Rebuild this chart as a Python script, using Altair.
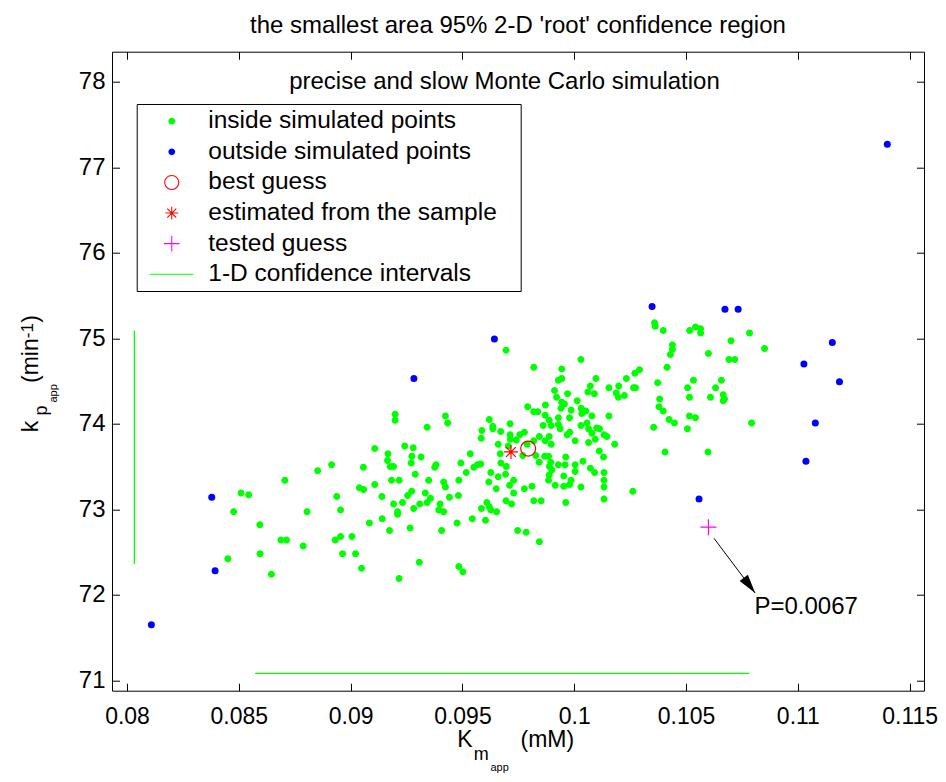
import altair as alt
import pandas as pd

FONT = "Liberation Sans"

TITLE = "the smallest area 95% 2-D 'root' confidence region"
NOTE_TEXT = ["precise and slow Monte Carlo simulation"]
NOTE_X = [0.09688]
NOTE_Y = [77.92]

X_DOMAIN = [0.07933, 0.11564]
Y_DOMAIN = [70.878, 78.351]
X_TICKS = [0.08, 0.085, 0.09, 0.095, 0.1, 0.105, 0.11, 0.115]
Y_TICKS = [71, 72, 73, 74, 75, 76, 77, 78]

INSIDE_X = [
    0.09695, 0.09819, 0.10030, 0.09944, 0.09929, 0.09944, 0.09912, 0.09970, 0.09921, 0.10097,
    0.10072, 0.10061, 0.10090, 0.10155, 0.10199, 0.10233, 0.10271, 0.10292, 0.10265, 0.10188,
    0.10224, 0.10197, 0.10359, 0.10362, 0.10398, 0.10439, 0.10439, 0.10430, 0.10415, 0.10373,
    0.10382, 0.10379, 0.10398, 0.10424, 0.10448, 0.10355, 0.10406, 0.10262, 0.09792, 0.09819,
    0.09837, 0.09871, 0.09944, 0.09941, 0.10013, 0.09956, 0.09986, 0.10031, 0.10034, 0.10052,
    0.10079, 0.10155, 0.09870, 0.09888, 0.09929, 0.09979, 0.09861, 0.09897, 0.09929, 0.09937,
    0.09888, 0.09844, 0.09870, 0.09897, 0.09819, 0.09789, 0.09777, 0.09756, 0.09741, 0.09713,
    0.09713, 0.09714, 0.09671, 0.09636, 0.09636, 0.09620, 0.09587, 0.09584, 0.09660, 0.09669,
    0.09705, 0.09770, 0.09828, 0.09868, 0.09885, 0.09843, 0.09895, 0.09889, 0.09900, 0.09888,
    0.09885, 0.09915, 0.09953, 0.09953, 0.09986, 0.09979, 0.10030, 0.09959, 0.09929, 0.09962,
    0.10004, 0.10004, 0.10039, 0.10030, 0.10057, 0.10064, 0.10079, 0.10100, 0.10113, 0.10094,
    0.10064, 0.10004, 0.09968, 0.09980, 0.10133, 0.10146, 0.10181, 0.10112, 0.10131, 0.10072,
    0.10091, 0.10133, 0.10133, 0.10133, 0.10133, 0.09962, 0.09852, 0.09819, 0.09844, 0.09785,
    0.09747, 0.09695, 0.09720, 0.09729, 0.09777, 0.09811, 0.09711, 0.09729, 0.09660, 0.09693,
    0.09696, 0.09672, 0.09627, 0.09618, 0.09651, 0.09582, 0.09567, 0.09551, 0.09517, 0.09493,
    0.09535, 0.09484, 0.09482, 0.09442, 0.09416, 0.09424, 0.09349, 0.09334, 0.09273, 0.09255,
    0.09289, 0.09315, 0.09274, 0.09271, 0.09280, 0.09242, 0.09167, 0.09165, 0.09177, 0.09192,
    0.09183, 0.09217, 0.09376, 0.09382, 0.09342, 0.09424, 0.09434, 0.09199, 0.09199, 0.09140,
    0.09192, 0.09210, 0.09210, 0.09232, 0.09282, 0.09309, 0.09342, 0.09357, 0.09400, 0.09394,
    0.09416, 0.09407, 0.09476, 0.09544, 0.09603, 0.09585, 0.09620, 0.09627, 0.09653, 0.09609,
    0.09141, 0.09174, 0.09266, 0.09307, 0.09484, 0.09502, 0.09217,
    0.08477, 0.08510, 0.08544, 0.08594, 0.08595, 0.08451, 0.08646, 0.08688, 0.08713, 0.08706,
    0.08788, 0.08805, 0.08853, 0.08915, 0.08938, 0.08955, 0.08931, 0.08955, 0.08964, 0.09006,
    0.09022, 0.09049, 0.09039, 0.09058, 0.09057, 0.09108, 0.09108, 0.09084,
    0.10516, 0.10542, 0.10565, 0.10565, 0.10600, 0.10701, 0.10784, 0.10851, 0.10692, 0.10718,
    0.10658, 0.10632, 0.10533, 0.10507, 0.10515, 0.10609, 0.10666, 0.10672, 0.10666, 0.10515,
    0.10542, 0.10506, 0.10793, 0.10598, 0.10274,
]
INSIDE_Y = [
    74.86, 74.66, 74.75, 74.64, 74.51, 74.53, 74.39, 74.35, 74.31, 74.53,
    74.44, 74.37, 74.35, 74.42, 74.44, 74.53, 74.59, 74.63, 74.42, 74.36,
    74.33, 74.31, 75.18, 75.14, 75.09, 74.92, 74.87, 74.81, 74.66, 74.48,
    74.29, 74.20, 74.15, 74.05, 74.01, 73.96, 73.67, 73.21, 74.20, 74.14,
    74.14, 74.22, 74.25, 74.18, 74.27, 74.23, 74.16, 74.18, 74.12, 74.15,
    74.09, 74.09, 74.10, 74.04, 74.07, 74.07, 73.98, 73.98, 73.99, 73.94,
    73.85, 73.85, 73.80, 73.76, 73.80, 73.76, 73.90, 73.87, 73.81, 74.00,
    73.87, 73.82, 73.91, 73.97, 73.94, 74.05, 73.92, 73.83, 73.76, 73.65,
    73.74, 73.63, 73.63, 73.62, 73.62, 73.55, 73.55, 73.50, 73.46, 73.40,
    73.34, 73.28, 73.27, 73.39, 73.34, 73.29, 73.26, 73.52, 73.52, 73.61,
    73.52, 73.44, 73.56, 73.98, 74.01, 73.94, 73.89, 73.95, 73.94, 73.82,
    73.78, 73.80, 73.87, 73.90, 73.87, 73.85, 73.76, 73.68, 73.61, 73.48,
    73.43, 73.43, 73.34, 73.26, 73.12, 73.08, 73.10, 73.10, 72.62, 72.73,
    72.75, 73.10, 73.06, 73.19, 73.24, 73.27, 73.28, 73.34, 73.38, 73.41,
    73.50, 73.54, 73.43, 73.32, 73.24, 73.53, 73.52, 73.49, 73.43, 73.54,
    73.65, 73.34, 73.16, 73.14, 73.32, 73.26, 73.34, 73.19, 73.21, 73.16,
    73.41, 73.61, 73.62, 73.54, 73.72, 73.74, 73.65, 73.57, 73.50, 73.50,
    73.34, 73.34, 73.49, 73.52, 73.96, 74.09, 74.01, 74.11, 74.04, 73.15,
    73.06, 72.97, 72.94, 73.08, 73.01, 73.06, 73.08, 73.13, 73.06, 72.99,
    72.97, 72.75, 72.84, 72.89, 72.87, 73.01, 73.03, 72.99, 72.97, 73.08,
    72.89, 72.75, 72.78, 72.38, 72.33, 72.27, 72.19,
    72.97, 73.19, 73.17, 72.82, 72.48, 72.42, 72.24, 72.64, 72.64, 73.34,
    72.57, 72.97, 73.45, 73.52, 73.15, 72.99, 72.64, 72.68, 72.48, 72.68,
    72.48, 72.31, 73.25, 73.23, 73.49, 73.71, 73.29, 72.84,
    75.09, 75.13, 75.11, 75.06, 74.82, 74.97, 75.06, 74.88, 74.75, 74.75,
    74.51, 74.42, 74.51, 74.42, 74.31, 74.31, 74.34, 74.29, 74.27, 74.09,
    74.07, 73.94, 74.01, 73.67, 74.42,
]

OUTSIDE_X = [0.08379, 0.08394, 0.08109, 0.09283, 0.09643, 0.10348, 0.10674, 0.10733,
             0.11154, 0.11027, 0.11186, 0.11078, 0.11036, 0.10558, 0.11400]
OUTSIDE_Y = [73.14, 72.28, 71.65, 74.53, 74.99, 75.37, 75.34, 75.34,
             74.95, 74.70, 74.49, 74.01, 73.56, 73.12, 77.27]

BEST_X = [0.09794]
BEST_Y = [73.71]
EST_X = [0.09717]
EST_Y = [73.67]
TESTED_X = [0.10600]
TESTED_Y = [72.79]

# 1-D confidence intervals: vertical (k_p) and horizontal (K_m)
CI_X1 = [0.08033, 0.08573]
CI_X2 = [0.08033, 0.10783]
CI_Y1 = [72.36, 71.08]
CI_Y2 = [75.09, 71.08]

ARROW_X1 = [0.10625]
ARROW_Y1 = [72.66]
ARROW_X2 = [0.10809]
ARROW_Y2 = [72.02]
P_TEXT = ["P=0.0067"]
P_X = [0.10806]
P_Y = [71.86]

LEGEND_LABELS = ["inside simulated points", "outside simulated points", "best guess",
                 "estimated from the sample", "tested guess", "1-D confidence intervals"]
LEGEND_COLORS = ["#00ff00", "#0000ff", "#ff0000", "#ff0000", "#ff00ff", "#00ff00"]

W, H = 812, 639

DOT_PATH = "M-0.45,0A0.45,0.45 0 1,0 0.45,0A0.45,0.45 0 1,0 -0.45,0Z"
RING_PATH = ("M-1,0A1,1 0 1,0 1,0A1,1 0 1,0 -1,0Z"
             "M-0.86,0A0.86,0.86 0 1,1 0.86,0A0.86,0.86 0 1,1 -0.86,0Z")
STAR_LEG = ("M-0.85,-0.07L0.85,-0.07L0.85,0.07L-0.85,0.07Z"
            "M-0.07,-0.85L0.07,-0.85L0.07,0.85L-0.07,0.85Z"
            "M-0.55,-0.65L0.65,0.55L0.55,0.65L-0.65,-0.55Z"
            "M-0.65,0.55L0.55,-0.65L0.65,-0.55L-0.55,0.65Z")
PLUS_LEG = ("M-1.05,-0.07L1.05,-0.07L1.05,0.07L-1.05,0.07Z"
            "M-0.07,-1.05L0.07,-1.05L0.07,1.05L-0.07,1.05Z")
LINE_LEG = "M-2.9,-0.08L2.9,-0.08L2.9,0.08L-2.9,0.08Z"
LEGEND_SHAPES = [DOT_PATH, DOT_PATH, RING_PATH, STAR_LEG, PLUS_LEG, LINE_LEG]

STAR_PATH = "M-1,0L1,0M0,-1L0,1M-0.7,-0.7L0.7,0.7M-0.7,0.7L0.7,-0.7"
PLUS_PATH = "M-1,0L1,0M0,-1L0,1"
HEAD_PATH = "M0,0L-0.27,1L0.27,1Z"

inside_df = pd.DataFrame({"Km": INSIDE_X, "kp": INSIDE_Y, "series": LEGEND_LABELS[0]})
outside_df = pd.DataFrame({"Km": OUTSIDE_X, "kp": OUTSIDE_Y})
best_df = pd.DataFrame({"Km": BEST_X, "kp": BEST_Y})
est_df = pd.DataFrame({"Km": EST_X, "kp": EST_Y})
tested_df = pd.DataFrame({"Km": TESTED_X, "kp": TESTED_Y})
ci_df = pd.DataFrame({"x1": CI_X1, "x2": CI_X2, "y1": CI_Y1, "y2": CI_Y2})
arrow_df = pd.DataFrame({"x1": ARROW_X1, "y1": ARROW_Y1, "x2": ARROW_X2, "y2": ARROW_Y2})
p_df = pd.DataFrame({"Km": P_X, "kp": P_Y, "t": P_TEXT})
note_df = pd.DataFrame({"Km": NOTE_X, "kp": NOTE_Y, "t": NOTE_TEXT})

XS = alt.Scale(domain=X_DOMAIN, nice=False, zero=False)
YS = alt.Scale(domain=Y_DOMAIN, nice=False, zero=False)


def tick_axis(orient, offset, values, title, tx, ty, fs, angle):
    return alt.Axis(orient=orient, offset=offset, values=values, labels=False, ticks=True,
                    tickSize=7.5, tickColor="black", tickWidth=1, domain=False, grid=False,
                    title=title, titleX=tx, titleY=ty, titleAngle=angle, titleAlign="left",
                    titleBaseline="alphabetic", titleFontSize=fs)


def title_axis(orient, title, tx, ty, fs, angle):
    return alt.Axis(orient=orient, labels=False, ticks=False, domain=False, grid=False,
                    title=title, titleX=tx, titleY=ty, titleAngle=angle, titleAlign="left",
                    titleBaseline="alphabetic", titleFontSize=fs)


ax_x_main = alt.Axis(orient="bottom", values=X_TICKS, format="~g", labelFontSize=23,
                     labelPadding=14.5, labelFlush=False, labelOverlap=False, ticks=False,
                     domain=False, grid=False, title="K", titleX=344.7, titleY=55.7,
                     titleAngle=0, titleAlign="left", titleBaseline="alphabetic", titleFontSize=23)
ax_y_main = alt.Axis(orient="left", values=Y_TICKS, labelFontSize=24, labelPadding=7,
                     labelOverlap=False, ticks=False, domain=False, grid=False, title="k",
                     titleX=-74.5, titleY=380, titleAngle=270, titleAlign="left",
                     titleBaseline="alphabetic", titleFontSize=23)

# a blank (non-whitespace) trailing glyph widens the legend frame like the original
LEG = alt.Legend(
    orient="none", legendX=24.7, legendY=52.3, title=None, direction="vertical",
    labelFont=FONT, labelFontSize=24.5, labelColor="black", labelLimit=500,
    padding=5, rowPadding=5.6, symbolSize=225, symbolOffset=17.8, labelOffset=24.3,
    symbolStrokeWidth=0, symbolOpacity=1,
    strokeColor="black", fillColor="white",
    labelExpr="datum.label + '\u2800'",
)

green = alt.Chart(inside_df).mark_point(filled=True, size=242, opacity=1, strokeWidth=0).encode(
    x=alt.X("Km:Q", scale=XS, axis=ax_x_main),
    y=alt.Y("kp:Q", scale=YS, axis=ax_y_main),
    color=alt.Color("series:N", scale=alt.Scale(domain=LEGEND_LABELS, range=LEGEND_COLORS), legend=LEG),
    shape=alt.Shape("series:N", scale=alt.Scale(domain=LEGEND_LABELS, range=LEGEND_SHAPES), legend=LEG),
)

blue = alt.Chart(outside_df).mark_circle(size=49, opacity=1, color="#0000ff").encode(
    x=alt.X("Km:Q", scale=XS, axis=tick_axis("top", -H, X_TICKS, "m", 361.3, 69, 18, 0)),
    y=alt.Y("kp:Q", scale=YS, axis=tick_axis("right", -W, Y_TICKS, "p", -66, 363.3, 18, 270)),
)

best = alt.Chart(best_df).mark_point(shape="circle", filled=False, size=225, color="#ff0000",
                                     strokeWidth=1.2, opacity=1).encode(
    x=alt.X("Km:Q", scale=XS, axis=tick_axis("bottom", -H, X_TICKS, "app", 378, 719.3, 11, 0)),
    y=alt.Y("kp:Q", scale=YS, axis=tick_axis("left", -W, Y_TICKS, "app", -867.25, 350.3, 11, 270)),
)

est = alt.Chart(est_df).mark_point(shape=STAR_PATH, filled=False, size=196, color="#ff0000",
                                   strokeWidth=1.2, opacity=1).encode(
    x=alt.X("Km:Q", scale=XS, axis=title_axis("bottom", "(mM)", 408, 55.7, 23, 0)),
    y=alt.Y("kp:Q", scale=YS, axis=title_axis("left", "(min", -74.5, 330.8, 23, 270)),
)

tested = alt.Chart(tested_df).mark_point(shape=PLUS_PATH, filled=False, size=256, color="#ff00ff",
                                         strokeWidth=1.2, opacity=1).encode(
    x=alt.X("Km:Q", scale=XS, axis=None),
    y=alt.Y("kp:Q", scale=YS, axis=title_axis("left", "-1", -80, 286, 17, 270)),
)

ci = alt.Chart(ci_df).mark_rule(color="#00ff00", strokeWidth=1.3).encode(
    x=alt.X("x1:Q", scale=XS, axis=None),
    x2="x2:Q",
    y=alt.Y("y1:Q", scale=YS, axis=title_axis("left", ")", -74.5, 270.5, 23, 270)),
    y2="y2:Q",
)

arrow = alt.Chart(arrow_df).mark_rule(color="black", strokeWidth=1).encode(
    x=alt.X("x1:Q", scale=XS, axis=None),
    x2="x2:Q",
    y=alt.Y("y1:Q", scale=YS, axis=None),
    y2="y2:Q",
)

head = alt.Chart(arrow_df).mark_point(shape=HEAD_PATH, filled=True, size=1444, color="black",
                                      angle=143.1, opacity=1).encode(
    x=alt.X("x2:Q", scale=XS, axis=None),
    y=alt.Y("y2:Q", scale=YS, axis=None),
)

ptext = alt.Chart(p_df).mark_text(align="left", baseline="middle", fontSize=24, font=FONT,
                                  color="black").encode(
    x=alt.X("Km:Q", scale=XS, axis=None),
    y=alt.Y("kp:Q", scale=YS, axis=None),
    text="t:N",
)

note = alt.Chart(note_df).mark_text(align="center", baseline="alphabetic", fontSize=24, font=FONT,
                                    color="black").encode(
    x=alt.X("Km:Q", scale=XS, axis=None),
    y=alt.Y("kp:Q", scale=YS, axis=None),
    text="t:N",
)

chart = alt.layer(green, blue, best, est, tested, ci, arrow, head, ptext, note).resolve_axis(
    x="independent", y="independent"
).properties(
    width=W, height=H,
    padding={"left": 104, "top": 43.7, "right": 14, "bottom": 83},
    autosize=alt.AutoSizeParams(type="none"),
    background="white",
    title=alt.Title(TITLE, fontSize=24, font=FONT, fontWeight="normal", color="black",
                    anchor="middle", frame="group", offset=-5.6, baseline="alphabetic"),
).configure_view(stroke="black", strokeWidth=1).configure_axis(
    labelFont=FONT, titleFont=FONT, labelColor="black", titleColor="black",
    titleFontWeight="normal", labelFontSize=24,
)

chart.save("out.html", embed_options={"renderer": "svg", "actions": False})
